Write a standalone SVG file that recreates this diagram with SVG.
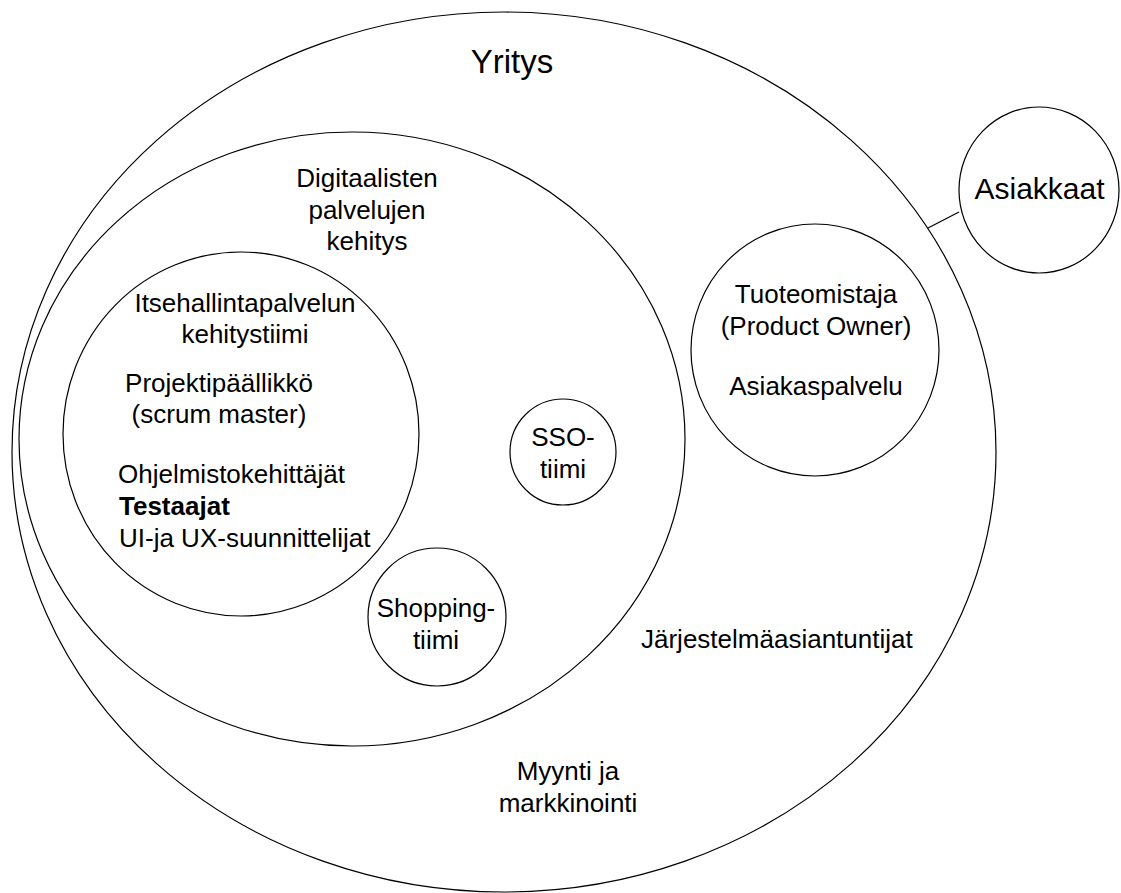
<svg xmlns="http://www.w3.org/2000/svg" width="1121" height="893" viewBox="0 0 1121 893">
<style>
.shape{fill:#fff;stroke:#000;stroke-width:1.2}
.t{font-family:"Liberation Sans",Arial,Helvetica,sans-serif;font-size:26px;fill:#000}
.c{text-anchor:middle}
.conn{stroke:#000;stroke-width:1.2;fill:none}
</style>
<rect width="1121" height="893" fill="#fff"/>
<g id="yritys">
<ellipse class="shape" cx="504" cy="452" rx="492" ry="440"/>
<text class="t c" x="512" y="73" style="font-size:33px">Yritys</text>
<text class="t" x="641" y="648">Järjestelmäasiantuntijat</text>
<text class="t c" x="568" y="780">Myynti ja</text>
<text class="t c" x="568" y="812">markkinointi</text>
</g>
<g id="digitaalisten">
<ellipse class="shape" cx="352" cy="439" rx="333" ry="307"/>
<text class="t c" x="367" y="187">Digitaalisten</text>
<text class="t c" x="367" y="219">palvelujen</text>
<text class="t c" x="367" y="250">kehitys</text>
</g>
<g id="itsehallinta">
<ellipse class="shape" cx="241" cy="434" rx="178" ry="182"/>
<text class="t c" x="245" y="312">Itsehallintapalvelun</text>
<text class="t c" x="245" y="343">kehitystiimi</text>
<text class="t c" x="219" y="392">Projektipäällikkö</text>
<text class="t c" x="219" y="423">(scrum master)</text>
<text class="t" x="118" y="483">Ohjelmistokehittäjät</text>
<text class="t" x="119" y="515" font-weight="bold">Testaajat</text>
<text class="t" x="119" y="547">UI-ja UX-suunnittelijat</text>
</g>
<g id="sso">
<circle class="shape" cx="563" cy="452" r="53"/>
<text class="t c" x="563" y="446">SSO-</text>
<text class="t c" x="563" y="478">tiimi</text>
</g>
<g id="shopping">
<circle class="shape" cx="437" cy="617" r="69"/>
<text class="t c" x="436" y="617">Shopping-</text>
<text class="t c" x="436" y="649">tiimi</text>
</g>
<g id="tuoteomistaja">
<ellipse class="shape" cx="815" cy="350" rx="124" ry="126"/>
<text class="t c" x="816" y="303">Tuoteomistaja</text>
<text class="t c" x="816" y="335">(Product Owner)</text>
<text class="t c" x="816" y="395">Asiakaspalvelu</text>
</g>
<g id="asiakkaat">
<ellipse class="shape" cx="1039" cy="190" rx="80" ry="83"/>
<text class="t c" x="1039.5" y="199" style="font-size:30px">Asiakkaat</text>
</g>
<g id="connectors">
<line class="conn" x1="928" y1="228" x2="959" y2="212"/>
</g>
</svg>
